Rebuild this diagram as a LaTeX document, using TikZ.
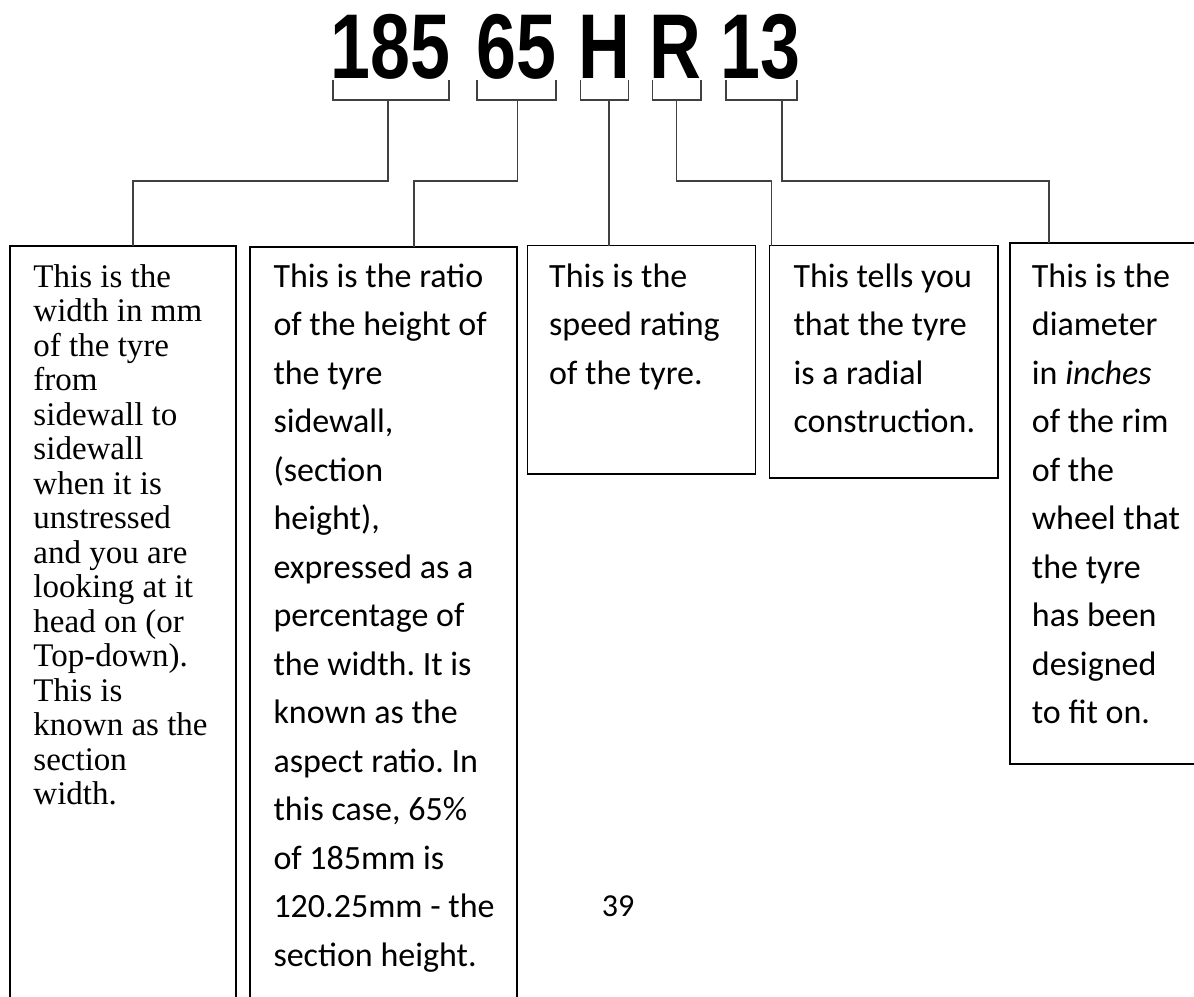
\documentclass[tikz,border=0pt]{standalone}
\usepackage{fontspec}
\usepackage{graphicx}
\setmainfont{Liberation Serif}
\newfontfamily\bodysans{Carlito}
\newfontfamily\titlefont{Liberation Sans}
\frenchspacing
\tikzset{
  boxstyle/.style={draw=black, line width=1.5bp, rectangle, anchor=north west, inner sep=0pt, outer sep=0pt},
  conn/.style={draw=black!75, line width=1.3bp},
  bracketstyle/.style={draw=black!75, line width=1.3bp},
  serifbody/.style={anchor=north west, inner sep=0pt, align=left, font=\frenchspacing\fontsize{33bp}{34.5bp}\selectfont},
  sansbody/.style={anchor=north west, inner sep=0pt, align=left, font=\frenchspacing\bodysans\fontsize{34bp}{48.5bp}\selectfont},
  titlechar/.style={anchor=base, inner sep=0pt, font=\titlefont\bfseries\fontsize{92bp}{92bp}\selectfont},
}
\newcommand{\firstline}{\rule{0pt}{30bp}}
\begin{document}
\begin{tikzpicture}[x=1bp, y=-1bp]
\useasboundingbox (0,0) rectangle (1194,997);
\clip (0,0) rectangle (1194,997);

% title
\node[titlechar] (t185) at (390.5,78) {\scalebox{0.78}[1]{185}};
\node[titlechar] (t65)  at (516.3,78) {\scalebox{0.78}[1]{65}};
\node[titlechar] (tH)   at (604.5,78) {\scalebox{0.78}[1]{H}};
\node[titlechar] (tR)   at (675.8,78) {\scalebox{0.78}[1]{R}};
\node[titlechar] (t13)  at (760.8,78) {\scalebox{0.78}[1]{13}};

% brackets
\draw[bracketstyle] (333,80) -- (333,100) -- (449,100) -- (449,80);
\draw[bracketstyle] (477,80) -- (477,100) -- (556,100) -- (556,80);
\draw[bracketstyle] (580.3,80) -- (580.3,100) -- (628.7,100) -- (628.7,80);
\draw[bracketstyle] (652.7,80) -- (652.7,100) -- (701,100) -- (701,80);
\draw[bracketstyle] (726,80) -- (726,100) -- (797,100) -- (797,80);
\coordinate (s185) at (388,100);
\coordinate (s65)  at (517.5,100);
\coordinate (sH)   at (609,100);
\coordinate (sR)   at (676.7,100);
\coordinate (s13)  at (782,100);

% boxes
\node[boxstyle, minimum width=226bp, minimum height=800bp] (box1) at (10,246) {};
\node[boxstyle, minimum width=267bp, minimum height=800bp] (box2) at (250,247) {};
\node[boxstyle, minimum width=227.8bp, minimum height=228.3bp] (box3) at (527.7,245.7) {};
\node[boxstyle, minimum width=228.7bp, minimum height=232.3bp] (box4) at (769.3,245.7) {};
\node[boxstyle, minimum width=220bp, minimum height=521bp] (box5) at (1010,243) {};

% connectors
\draw[conn] (s185) -- ++(0,81) -| ([xshift=10bp]box1.north);
\draw[conn] (s65) -- ++(0,81) -| ([xshift=30.5bp]box2.north);
\draw[conn] (sH) -- (sH |- box3.north);
\draw[conn] (sR) -- ++(0,81) -| ([xshift=-112bp]box4.north);
\draw[conn] (s13) -- ++(0,81) -| ([xshift=-71bp]box5.north);

% texts
\node[serifbody] (txt1) at (33.3,257) {\firstline This is the\\ width in mm\\ of the tyre\\ from\\ sidewall to\\ sidewall\\ when it is\\ unstressed\\ and you are\\ looking at it\\ head on (or\\ Top-down).\\ This is\\ known as the\\ section\\ width.};
\node[sansbody] (txt2) at (273.3,257) {\firstline This is the ratio\\ of the height of\\ the tyre\\ sidewall,\\ (section\\ height),\\ expressed as a\\ percentage of\\ the width. It is\\ known as the\\ aspect ratio. In\\ this case, 65\%\\ of 185mm is\\ 120.25mm - the\\ section height.};
\node[sansbody] (txt3) at (549,257) {\firstline This is the\\ speed rating\\ of the tyre.};
\node[sansbody] (txt4) at (793.3,257) {\firstline This tells you\\ that the tyre\\ is a radial\\ construction.};
\node[sansbody] (txt5) at (1031.7,257) {\firstline This is the\\ diameter\\ in {\itshape inches}\\ of the rim\\ of the\\ wheel that\\ the tyre\\ has been\\ designed\\ to fit on.};

% page number
\node[anchor=base, inner sep=0pt, font=\bodysans\fontsize{32bp}{32bp}\selectfont] (pnum) at (618,916) {39};
\end{tikzpicture}
\end{document}
